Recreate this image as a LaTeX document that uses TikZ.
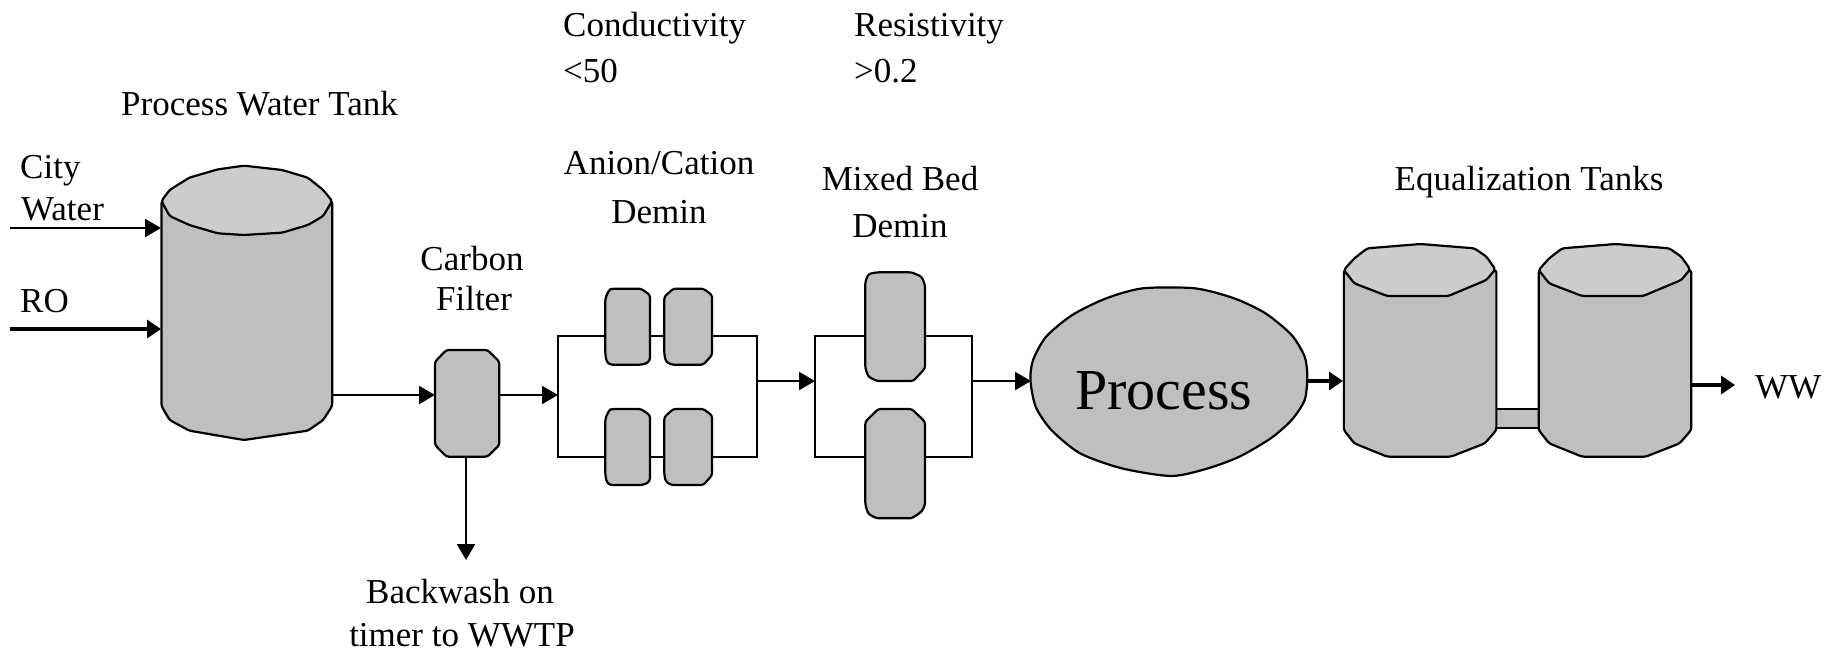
\documentclass[tikz,border=0pt]{standalone}
\usepackage{fontspec}
\setmainfont{Liberation Serif}
\usetikzlibrary{arrows.meta}
\definecolor{body}{HTML}{BFBFBF}
\definecolor{rim}{HTML}{CCCCCC}
\tikzset{
  lbl/.style={inner sep=0pt,anchor=base west,font=\fontsize{35}{35}\selectfont},
  lblc/.style={inner sep=0pt,anchor=base,font=\fontsize{35}{35}\selectfont},
  vessel/.style={draw=black,fill=body,line width=2.2pt,line join=round,rounded corners=2.5pt},
  vrim/.style={draw=black,fill=rim,line width=2.2pt,line join=round,rounded corners=2.5pt},
  hook/.style={inner sep=0pt,outer sep=0pt,anchor=north west},
  flow/.style={draw=black,line width=2.2pt,-{Triangle[length=16pt,width=18pt]}},
  flowthick/.style={draw=black,line width=3.4pt,-{Triangle[length=14pt,width=18pt]}},
  zone1/.style={shift={(0,130)},x=0.35714pt,y=-0.33333pt},
  zone2/.style={shift={(540,260)},x=0.33333pt,y=-0.33333pt},
  zone3/.style={shift={(1020,230)},x=0.52232pt,y=-0.33333pt},
}
\begin{document}
\begin{tikzpicture}[x=1pt,y=-1pt]
\useasboundingbox (0,0) rectangle (1839,654);
% invisible named hooks for connectors
\node[hook,minimum width=171pt,minimum height=276pt] (tank) at (161,166) {};
\node[hook,minimum width=65pt,minimum height=106pt] (filter) at (435,350) {};
\node[hook,minimum width=276pt,minimum height=188pt] (proc) at (1031,288) {};
\node[hook,minimum width=152pt,minimum height=200pt] (eqa) at (1343,244) {};
\node[hook,minimum width=151pt,minimum height=200pt] (eqb) at (1539,244) {};
\coordinate (cityin) at (10,228);
\coordinate (roin) at (10,329);
\coordinate (bwout) at (466,560);
\coordinate (wwout) at (1735,385);
% bypass frames
\node[hook,draw,line width=2.2pt,minimum width=199pt,minimum height=121pt] (frameac) at (558,336) {};
\node[hook,draw,line width=2.2pt,minimum width=157pt,minimum height=121pt] (framemb) at (815,336) {};
% connectors
\draw[flow] (cityin) -- (tank.west |- cityin);
\draw[flowthick] (roin) -- (tank.west |- roin);
\draw[flow] (tank.east |- 0,395) -- (filter.west |- 0,395);
\draw[flow] (filter.east |- 0,395) -- (frameac.west |- 0,395);
\draw[flow] (filter.south -| bwout) -- (bwout);
\draw[flow] (frameac.east |- 0,381) -- (framemb.west |- 0,381);
\draw[flow] (framemb.east |- 0,381) -- (proc.west |- 0,381);
\draw[flowthick] (proc.east |- 0,381) -- (eqa.west |- 0,381);
\draw[flowthick] (eqb.east |- wwout) ++(-4,0) -- (wwout);
% process water tank and carbon filter
\begin{scope}[zone1]
\path[vessel] (452,213) -- (452,828) -- (475,870) -- (530,902) -- (683,930) -- (862,902) -- (905,870) -- (930,828) -- (930,213) -- cycle;
\path[vrim] (452,213) -- (475,180) -- (530,143) -- (610,118) -- (683,107) -- (790,120) -- (862,143) -- (905,180) -- (930,213) -- (905,258) -- (862,285) -- (790,308) -- (683,315) -- (610,310) -- (530,285) -- (475,258) -- cycle;
\path[vessel] (1218,695) -- (1250,660) -- (1365,660) -- (1398,695) -- (1398,945) -- (1365,980) -- (1250,980) -- (1218,945) -- cycle;
\end{scope}
% demineraliser vessels
\begin{scope}[zone2]
\foreach \dy in {0,361}{
\begin{scope}[yshift=-\dy*0.33333pt]
\path[vessel] (196,115) -- (207,90) -- (215,86) -- (303,86) -- (330,105) -- (330,300) -- (320,310) -- (305,314) -- (210,314) -- (200,305) -- (196,285) -- cycle;
\path[vessel] (373,110) -- (400,86) -- (490,86) -- (516,105) -- (516,285) -- (490,314) -- (395,314) -- (378,305) -- (373,285) -- cycle;
\end{scope}}
\path[vessel] (976,65) -- (985,42) -- (1010,37) -- (1115,37) -- (1145,50) -- (1155,75) -- (1155,325) -- (1120,363) -- (1010,363) -- (985,350) -- (976,325) -- cycle;
\path[vessel] (976,485) -- (1015,447) -- (1115,447) -- (1155,485) -- (1155,735) -- (1145,755) -- (1115,775) -- (1010,775) -- (985,762) -- (976,735) -- cycle;
\end{scope}
% process and equalization tanks
\begin{scope}[zone3]
\draw[draw=black,fill=body,line width=2.2pt,line join=round] plot[smooth cycle,tension=0.45] coordinates {(20,450) (25,390) (50,320) (100,255) (165,205) (235,175) (335,175) (410,205) (470,250) (520,315) (545,380) (550,440) (545,510) (520,570) (480,625) (420,680) (360,715) (290,738) (195,715) (115,670) (60,600) (30,530)};
\path[vessel,rounded corners=0pt] (912,537) rectangle (993,595);
\foreach \dx in {0,373}{
\begin{scope}[xshift=\dx*0.52232pt]
\path[vessel] (620,120) -- (620,600) -- (640,640) -- (703,680) -- (825,680) -- (890,640) -- (912,600) -- (912,120) -- cycle;
\path[vrim] (620,120) -- (640,85) -- (665,55) -- (767,42) -- (870,55) -- (893,80) -- (910,118) -- (893,150) -- (820,198) -- (703,198) -- (640,160) -- cycle;
\end{scope}}
\end{scope}
% labels
\node[lbl] (tconda) at (563,36) {Conductivity};
\node[lbl] (tcondb) at (563,82) {<50};
\node[lbl] (tresa) at (854,36) {Resistivity};
\node[lbl] (tresb) at (854,82) {>0.2};
\node[lbl] (tpwt) at (121,115) {Process Water Tank};
\node[lbl] (tcity) at (20,178) {City};
\node[lbl] (twater) at (21,220) {Water};
\node[lbl] (tro) at (20,312) {RO};
\node[lblc] (tcarbon) at (472,270) {Carbon};
\node[lblc] (tfilter) at (474,310) {Filter};
\node[lblc] (tanion) at (659,174) {Anion/Cation};
\node[lblc] (tdemina) at (659,223) {Demin};
\node[lblc] (tmixed) at (900,190) {Mixed Bed};
\node[lblc] (tdeminb) at (900,237) {Demin};
\node[lblc] (teq) at (1529,190) {Equalization Tanks};
\node[lblc] (tback) at (460,603) {Backwash on};
\node[lblc] (ttimer) at (462,646) {timer to WWTP};
\node[lbl] (tww) at (1755,398) {WW};
\node[inner sep=0pt,anchor=base west,font=\fontsize{58}{58}\selectfont] (tproc) at (1075,409) {Process};
\end{tikzpicture}
\end{document}
